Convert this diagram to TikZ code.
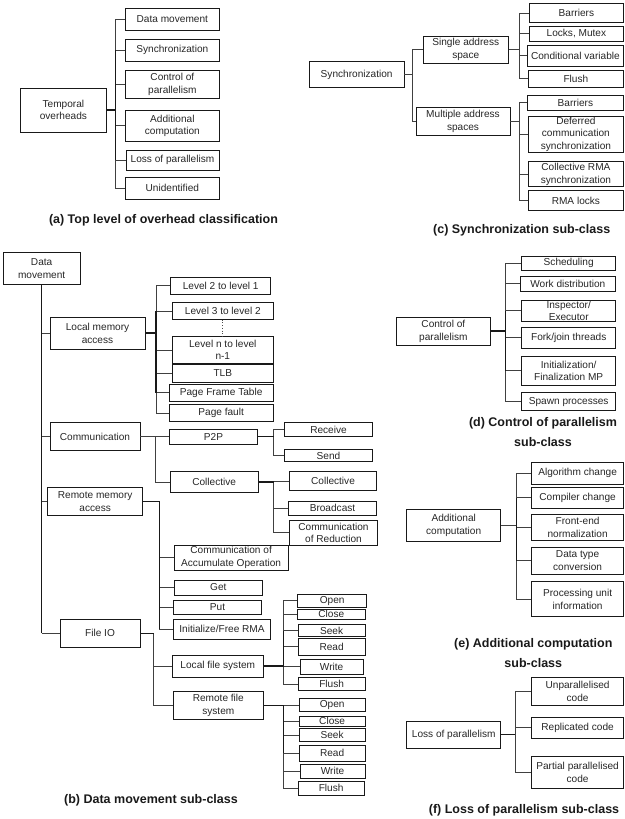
\documentclass[tikz,border=0pt]{standalone}
\usepackage{fontspec}
\setmainfont{Liberation Sans}
\newcommand\mybox[6]{\node[box,minimum width={(#4)-(#2)},minimum height={(#5)-(#3)}] (#1) at ({((#2)+(#4))/2},{((#3)+(#5))/2}) {#6};}
\tikzset{
 box/.style={draw=black!90, line width=0.8pt, inner sep=0pt, align=center, font=\fontsize{10.1}{12.6}\selectfont, text=black!85},
 conn/.style={draw=black!75, line width=0.8pt},
 thk/.style={draw=black!90, line width=1.4pt},
 captxt/.style={font=\fontsize{12.5}{20}\selectfont\bfseries, align=center, text=black!90, inner sep=0pt},
}
\begin{document}
\begin{tikzpicture}[x=1pt,y=-1pt]
\useasboundingbox (0,0) rectangle (624,819);
% ---------------- (a)
\mybox{ta}{20.7}{88}{106}{132}{Temporal\\overheads}
\mybox{a1}{125.7}{8.3}{219}{30}{Data movement}
\mybox{a2}{125.7}{39.3}{219}{61}{Synchronization}
\mybox{a3}{125.7}{70}{219}{98.3}{Control of\\parallelism}
\mybox{a4}{125.7}{110}{219}{141.7}{Additional\\computation}
\mybox{a5}{126}{150}{219}{170}{Loss of parallelism}
\mybox{a6}{125.7}{177.7}{219}{199}{Unidentified}
\foreach \c in {a1,a2,a3,a4,a5,a6} \draw[conn] (ta.east) -- ++(9,0) |- (\c.west);
\draw[thk] (ta.east) -- ++(9,0);
\draw[thk] ([xshift=9pt]ta.east |- a2.west) -- ([xshift=9pt]ta.east |- a5.west);
\node[captxt] (capa) at (163.5,220) {(a) Top level of overhead classification};
% ---------------- (c)
\mybox{cs}{309.3}{61.7}{404}{87.3}{Synchronization}
\mybox{c1}{423.3}{36}{508.3}{63.3}{Single address\\space}
\mybox{c2}{416}{107.3}{510}{135}{Multiple address\\spaces}
\foreach \c in {c1,c2} \draw[conn] (cs.east) -- ++(8.3,0) |- (\c.west);
\mybox{c11}{529.3}{3.3}{623.5}{22.7}{Barriers}
\mybox{c12}{529.3}{26}{623.5}{41.7}{Locks, Mutex}
\mybox{c13}{527.3}{45}{623.5}{66.7}{Conditional variable}
\mybox{c14}{528.3}{70}{623.5}{87.3}{Flush}
\foreach \c in {c11,c12,c13,c14} \draw[conn] (c1.east) -- ++(11,0) |- (\c.west);
\mybox{c21}{527.3}{95}{623.5}{110}{Barriers}
\mybox{c22}{528.3}{116}{623.5}{152.7}{Deferred\\communication\\synchronization}
\mybox{c23}{528.3}{161.7}{623.5}{186.7}{Collective RMA\\synchronization}
\mybox{c24}{528.3}{190.7}{623.5}{210.7}{RMA locks}
\foreach \c in {c21,c22,c23,c24} \draw[conn] (c2.east) -- ++(9.3,0) |- (\c.west);
\node[captxt] (capc) at (521.7,230) {(c) Synchronization sub-class};
% ---------------- (b)
\mybox{b0}{3.3}{252.7}{80}{284}{Data\\movement}
\mybox{b1}{50}{317.3}{145}{349}{Local memory\\access}
\mybox{b2}{50}{422.7}{140}{450.7}{Communication}
\mybox{b3}{47.7}{487.3}{142.7}{515.7}{Remote memory\\access}
\mybox{b4}{60}{619.3}{140}{647.3}{File IO}
\draw[thk] (b0.south) -- (b0.south |- b4.west);
\foreach \c in {b1,b2,b3,b4} \draw[conn] (b0.south |- \c.west) -- (\c.west);
% local memory
\mybox{b11}{170.7}{277.3}{270.7}{294}{Level 2 to level 1}
\mybox{b12}{172.3}{302.7}{273.3}{319.3}{Level 3 to level 2}
\mybox{b13}{172.3}{336.7}{273.3}{363.3}{Level n to level\\n-1}
\mybox{b14}{172.3}{364.3}{273.3}{382.3}{TLB}
\mybox{b15}{169}{384.3}{273.3}{401}{Page Frame Table}
\mybox{b16}{169}{404.3}{273.3}{421.7}{Page fault}
\foreach \c in {b11,b12,b13,b14,b15,b16} \draw[conn] (b1.east) -- ++(10.7,0) |- (\c.west);
\draw[thk] (b1.east) -- ++(10.7,0);
\draw[thk] ([xshift=10.7pt]b1.east |- b12.west) -- ([xshift=10.7pt]b1.east |- b15.west);
\draw[black!70, line width=0.7pt, dotted] (b12.south) -- (b13.north);
% communication
\mybox{b21}{169.3}{429.3}{257.7}{444}{P2P}
\mybox{b22}{170}{471.7}{258.3}{492.3}{Collective}
\foreach \c in {b21,b22} \draw[conn] (b2.east) -- ++(15,0) |- (\c.west);
\mybox{b211}{284.3}{422.3}{372.7}{436.7}{Receive}
\mybox{b212}{284.3}{449.3}{372.7}{461.7}{Send}
\foreach \c in {b211,b212} \draw[conn] (b21.east) -- ++(15.6,0) |- (\c.west);
\draw[thk] (b21.east) -- ++(15.6,0);
\mybox{b221}{289.3}{471.7}{376.7}{490.7}{Collective}
\mybox{b222}{288.3}{501}{376.7}{515}{Broadcast}
\mybox{b223}{289.3}{520.7}{377.7}{545}{Communication\\of Reduction}
\foreach \c in {b221,b222,b223} \draw[conn] (b22.east) -- ++(15,0) |- (\c.west);
\draw[thk] (b22.east) -- ++(15,0);
% remote memory
\mybox{b31}{174}{545}{288.3}{570}{Communication of\\Accumulate Operation}
\mybox{b32}{174}{580}{262.7}{595}{Get}
\mybox{b33}{173.3}{600}{261.7}{614.3}{Put}
\mybox{b34}{173.3}{619.3}{270.7}{639.3}{Initialize/Free RMA}
\foreach \c in {b31,b32,b33,b34} \draw[conn] (b3.east) -- ++(16.3,0) |- (\c.west);
\draw[thk] (b3.east) -- ++(16.3,0) -- ([xshift=16.3pt]b3.east |- b34.west);
% file IO
\mybox{b41}{172.3}{655}{263.3}{677.3}{Local file system}
\mybox{b42}{173.3}{691.7}{263.3}{719}{Remote file\\system}
\foreach \c in {b41,b42} \draw[conn] (b4.east) -- ++(13.3,0) |- (\c.west);
\draw[thk] (b4.east) -- ++(13.3,0);
\mybox{b411}{297.7}{594.3}{366.7}{607.3}{Open}
\mybox{b412}{297.7}{609.3}{365}{619.3}{Close}
\mybox{b413}{298.3}{624.3}{365}{636.7}{Seek}
\mybox{b414}{298.3}{638.3}{365}{655}{Read}
\mybox{b415}{300}{659.3}{363.3}{674}{Write}
\mybox{b416}{298.3}{677.3}{365}{690.7}{Flush}
\foreach \c in {b411,b412,b413,b414,b415,b416} \draw[conn] (b41.east) -- ++(20,0) |- (\c.west);
\draw[thk] (b41.east) -- ++(20,0);
\draw[thk] ([xshift=20pt]b41.east |- b413.west) -- ([xshift=20pt]b41.east);
\mybox{b421}{299.3}{698.3}{365}{711.7}{Open}
\mybox{b422}{299.3}{716}{365}{726}{Close}
\mybox{b423}{299.3}{728.3}{365}{741.7}{Seek}
\mybox{b424}{299.3}{745}{365}{761.7}{Read}
\mybox{b425}{300}{764}{365}{778.3}{Write}
\mybox{b426}{298.3}{781.7}{364}{795}{Flush}
\foreach \c in {b421,b422,b423,b424,b425,b426} \draw[conn] (b42.east) -- ++(20,0) |- (\c.west);
\draw[thk] (b42.east) -- ++(20,0) -- ([xshift=20pt]b42.east |- b424.west);
\node[captxt] (capb) at (151,800.7) {(b) Data movement sub-class};
% ---------------- (d)
\mybox{dp}{396.7}{317.3}{490}{345}{Control of\\parallelism}
\mybox{d1}{521.7}{256}{615.7}{270.7}{Scheduling}
\mybox{d2}{520}{276}{615.7}{291.7}{Work distribution}
\mybox{d3}{521.7}{300}{615.7}{321.7}{Inspector/\\Executor}
\mybox{d4}{521.7}{327.3}{615.7}{348.3}{Fork/join threads}
\mybox{d5}{521.7}{356.7}{615.7}{385}{Initialization/\\Finalization MP}
\mybox{d6}{521.7}{392.7}{615.7}{410.7}{Spawn processes}
\foreach \c in {d1,d2,d3,d4,d5,d6} \draw[conn] (dp.east) -- ++(15,0) |- (\c.west);
\draw[thk] (dp.east) -- ++(15,0);
\draw[thk] ([xshift=15pt]dp.east |- d3.west) -- ([xshift=15pt]dp.east |- d5.west);
\node[captxt] (capd) at (543,431.7) {(d) Control of parallelism\\sub-class};
% ---------------- (e)
\mybox{ep}{406.7}{509.3}{500.7}{541}{Additional\\computation}
\mybox{e1}{531.7}{462.7}{623.5}{484}{Algorithm change}
\mybox{e2}{531.7}{487.3}{623.5}{508.3}{Compiler change}
\mybox{e3}{531.7}{514}{623.5}{540.7}{Front-end\\normalization}
\mybox{e4}{531.7}{547.3}{623.5}{574}{Data type\\conversion}
\mybox{e5}{531.7}{581.7}{623.5}{616.7}{Processing unit\\information}
\foreach \c in {e1,e2,e3,e4,e5} \draw[conn] (ep.east) -- ++(15.3,0) |- (\c.west);
\draw[thk] ([xshift=15.3pt]ep.east |- e2.west) -- ([xshift=15.3pt]ep.east |- e4.west);
\node[captxt] (cape) at (533.3,653.3) {(e) Additional computation\\sub-class};
% ---------------- (f)
\mybox{fp}{406.7}{721}{500.7}{748.3}{Loss of parallelism}
\mybox{f1}{531.7}{677.3}{623.5}{705}{Unparallelised\\code}
\mybox{f2}{531.7}{717.3}{623.5}{738.3}{Replicated code}
\mybox{f3}{531.7}{756.7}{623.5}{788.3}{Partial parallelised\\code}
\foreach \c in {f1,f2,f3} \draw[conn] (fp.east) -- ++(14.3,0) |- (\c.west);
\draw[thk] (fp.east) -- ++(14.3,0);
\node[captxt] (capf) at (524,810.7) {(f) Loss of parallelism sub-class};
\end{tikzpicture}
\end{document}
